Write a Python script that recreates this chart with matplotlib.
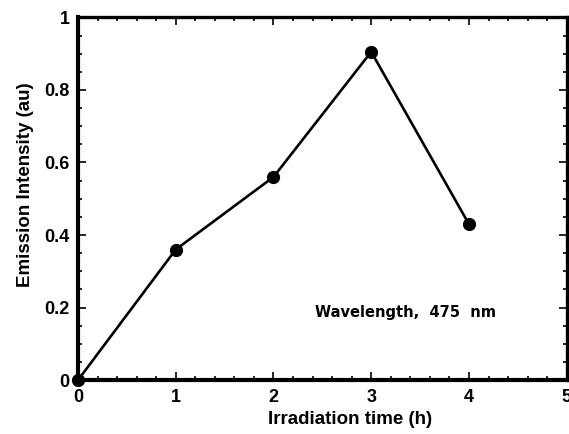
import matplotlib
matplotlib.use("Agg")
import matplotlib.pyplot as plt
from matplotlib.ticker import MultipleLocator

# Emission intensity versus irradiation time
time_h = [0, 1, 2, 3, 4]
intensity = [0.0, 0.36, 0.56, 0.905, 0.43]
x_ticks = [0, 1, 2, 3, 4, 5]
y_ticks = [0, 0.2, 0.4, 0.6, 0.8, 1]
y_tick_labels = ["0", "0.2", "0.4", "0.6", "0.8", "1"]

plt.rcParams["font.family"] = ["Liberation Sans", "DejaVu Sans"]
plt.rcParams["font.weight"] = "bold"

fig = plt.figure(figsize=(5.69, 4.34), dpi=100)
ax = fig.add_axes([0.137, 0.124, 0.859, 0.836])

ax.plot(time_h, intensity, color="black", linewidth=1.9, marker="o",
        markersize=8.5, markerfacecolor="black", markeredgecolor="black",
        clip_on=False, zorder=3)

ax.set_xlim(0, 5)
ax.set_ylim(0, 1)
ax.set_xticks(x_ticks)
ax.set_xticklabels([str(v) for v in x_ticks])
ax.set_yticks(y_ticks)
ax.set_yticklabels(y_tick_labels)
ax.xaxis.set_minor_locator(MultipleLocator(0.2))
ax.yaxis.set_minor_locator(MultipleLocator(0.05))

ax.tick_params(which="both", direction="in", top=True, right=True,
               labelsize=13, width=1.2, pad=6)
ax.tick_params(which="major", length=6)
ax.tick_params(which="minor", length=3)

for spine in ax.spines.values():
    spine.set_linewidth(2.4)
ax.spines["bottom"].set_linewidth(3)
ax.spines["left"].set_linewidth(3)

ax.set_xlabel("Irradiation time (h)", fontsize=13.5, fontweight="bold")
ax.xaxis.set_label_coords(0.556, -0.085)
ax.set_ylabel("Emission Intensity (au)", fontsize=13.5, fontweight="bold")
ax.yaxis.set_label_coords(-0.09, 0.54)

ax.text(3.35, 0.187, "Wavelength,  475  nm", fontsize=10.5,
        family="DejaVu Sans", fontweight="bold", ha="center", va="center")

fig.savefig("out.png", dpi=100)
